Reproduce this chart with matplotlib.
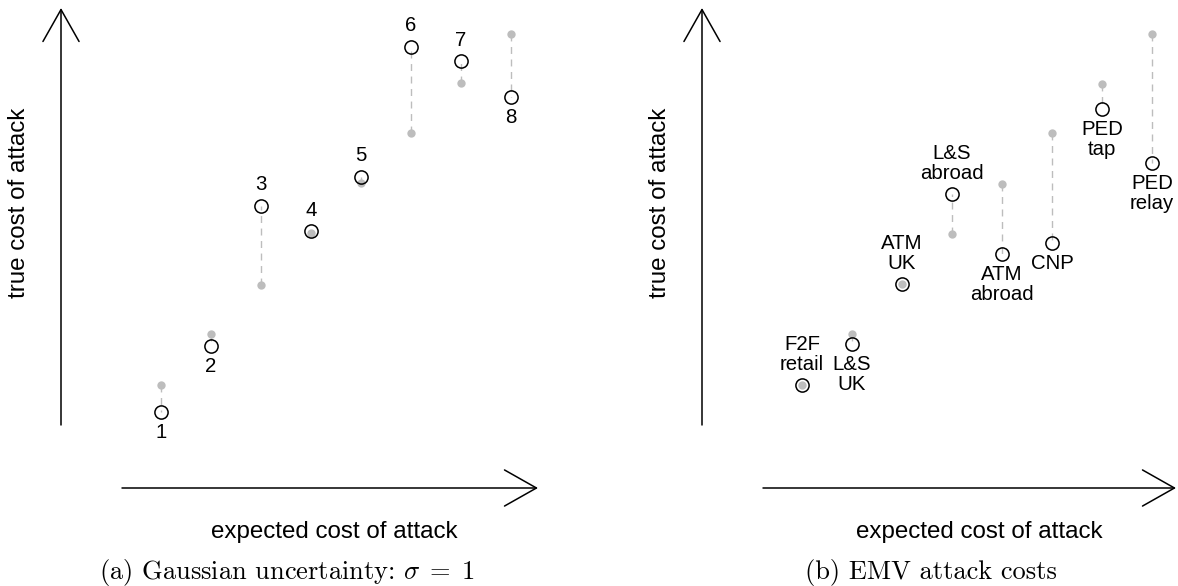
import matplotlib.pyplot as plt

# --- data (units: 1 step on the x axis) ---
x_pos = [1, 2, 3, 4, 5, 6, 7, 8]

# panel (a): Gaussian uncertainty
gauss_labels = ['1', '2', '3', '4', '5', '6', '7', '8']
gauss_expected = [2.06, 3.08, 4.06, 5.10, 6.10, 7.10, 8.10, 9.08]
gauss_true = [1.52, 2.84, 5.64, 5.14, 6.22, 8.82, 8.54, 7.82]
gauss_side = ['below', 'below', 'above', 'above', 'above', 'above', 'above', 'below']

# panel (b): EMV attack costs
emv_labels = ['F2F\nretail', 'L&S\nUK', 'ATM\nUK', 'L&S\nabroad',
              'ATM\nabroad', 'CNP', 'PED\ntap', 'PED\nrelay']
emv_expected = [2.06, 3.08, 4.08, 5.08, 6.08, 7.10, 8.08, 9.08]
emv_true = [2.06, 2.88, 4.08, 5.88, 4.68, 4.90, 7.58, 6.50]
emv_side = ['above', 'below', 'above', 'above', 'below', 'below', 'below', 'below']

plt.rcParams['font.family'] = ['Liberation Sans', 'DejaVu Sans']
plt.rcParams['mathtext.fontset'] = 'cm'

GREY = '#bdbdbd'
W, H = 1178, 586
UNIT = 50.0  # pixels per data unit


def draw_panel(ax, x_origin_px, expected, true, labels, side, caption,
               xaxis_end, xlabel_x, caption_x):
    ax.set_xlim(-x_origin_px / UNIT, -x_origin_px / UNIT + (W / 2) / UNIT)
    ax.set_ylim(-98 / UNIT, (H - 98) / UNIT)
    ax.set_axis_off()

    # dashed links between expected (grey) and true (circle) cost
    ax.vlines(x_pos, expected, true, colors=GREY, linestyles=(0, (5, 4)),
              linewidth=1.0, zorder=1)
    ax.plot(x_pos, expected, 'o', color=GREY, markersize=6, zorder=2,
            markeredgewidth=0)
    ax.plot(x_pos, true, 'o', markerfacecolor='none', markeredgecolor='black',
            markersize=9.5, markeredgewidth=1.1, zorder=3)

    for x, y, lab, s in zip(x_pos, true, labels, side):
        n = lab.count('\n') + 1
        off = (21 + 9.5 * (n - 1)) * 0.72
        if s == 'below':
            off = -off
        ax.annotate(lab, (x, y), xytext=(0, off), textcoords='offset points',
                    ha='center', va='center', fontsize=14.7, linespacing=1.05)

    # hand-drawn style axes with open arrow heads
    arrow = dict(arrowstyle='->,head_length=23,head_width=13',
                 mutation_scale=1, lw=1.1, color='black',
                 shrinkA=0, shrinkB=0)
    ax.annotate('', xy=(-1.0, 9.6), xytext=(-1.0, 1.26), arrowprops=arrow)
    ax.annotate('', xy=(xaxis_end, 0), xytext=(0.22, 0), arrowprops=arrow)

    ax.text(-1.84, 5.7, 'true cost of attack', rotation=90,
            ha='center', va='center', fontsize=17.4)
    ax.text(xlabel_x, -0.88, 'expected cost of attack',
            ha='center', va='center', fontsize=17.4)
    ax.text(caption_x, -1.68, caption, ha='center', va='center',
            fontsize=19, family='cmr10')


fig = plt.figure(figsize=(W / 100, H / 100), dpi=100)
ax_a = fig.add_axes([0, 0, 0.5, 1])
ax_b = fig.add_axes([0.5, 0, 0.5, 1])

draw_panel(ax_a, 111, gauss_expected, gauss_true, gauss_labels, gauss_side,
           r'(a) Gaussian uncertainty: $\sigma\;=\;1$', 8.54, 4.46, 3.52)
draw_panel(ax_b, 163, emv_expected, emv_true, emv_labels, emv_side,
           '(b) EMV attack costs', 8.48, 4.54, 3.58)

fig.savefig('out.png', dpi=100)
